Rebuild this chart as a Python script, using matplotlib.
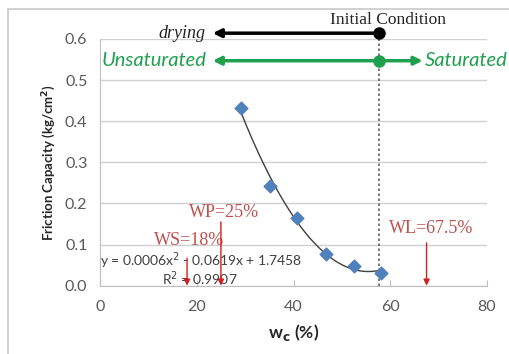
import numpy as np
import matplotlib

matplotlib.use("Agg")
import matplotlib.pyplot as plt
from matplotlib.patches import Rectangle

plt.rcParams["font.family"] = ["Lato", "DejaVu Sans"]

# ── data ──
wc = [29.2, 35.1, 40.8, 46.7, 52.5, 58.1]
friction = [0.431, 0.242, 0.165, 0.077, 0.048, 0.032]

initial_wc = 57.7
limit_names = ["WS=18%", "WP=25%", "WL=67.5%"]
limit_wc = [18, 25, 67.5]
limit_arrow_top = [0.067, 0.155, 0.104]
limit_text_pos = [(18.4, 0.109), (25.6, 0.177), (68.4, 0.140)]

x_ticks = [0, 20, 40, 60, 80]
y_ticks = [0.0, 0.1, 0.2, 0.3, 0.4, 0.5, 0.6]

GREEN = "#1FA04E"
RED = "#C0504D"
ARROW_RED = "#D21F1F"
BLUE = "#4F81BD"
GRID = "#D0D0D0"
TICK = "#595959"

fig = plt.figure(figsize=(5.1, 3.54), dpi=100)
ax = fig.add_axes([0.196, 0.193, 0.759, 0.697])

# outer chart border
fig.patches.append(Rectangle((8 / 510, -0.05), 1.1, 1 - 9 / 354 + 0.05,
                             transform=fig.transFigure, fill=False,
                             edgecolor="#C8C8C8", lw=1.2))

ax.set_xlim(0, 80)
ax.set_ylim(0, 0.6)
ax.set_xticks(x_ticks)
ax.set_yticks(y_ticks)
ax.set_yticklabels([f"{v:.1f}" for v in y_ticks])
ax.grid(axis="y", color=GRID, lw=1)
ax.set_axisbelow(True)
for s in ["top", "right"]:
    ax.spines[s].set_visible(False)
for s in ["left", "bottom"]:
    ax.spines[s].set_color("#BFBFBF")
ax.tick_params(axis="y", length=0, labelsize=11.5, labelcolor=TICK, pad=9)
ax.tick_params(axis="x", direction="in", length=4, color="#BFBFBF",
               labelsize=11.5, labelcolor=TICK, pad=10)

# trendline (2nd order polynomial fit of the points)
coef = np.polyfit(wc, friction, 2)
xs = np.linspace(min(wc), max(wc), 200)
ax.plot(xs, np.polyval(coef, xs), color="#404040", lw=1)
ax.scatter(wc, friction, marker="D", s=42, color=BLUE, zorder=4)

# initial condition dotted line
ax.plot([initial_wc, initial_wc], [0, 0.614], ls=(0, (1.5, 1.5)),
        color="#606060", lw=1.2, clip_on=False)

# drying arrow
ax.annotate("", xy=(23.3, 0.614), xytext=(initial_wc, 0.614),
            arrowprops=dict(arrowstyle="-|>", color="black", lw=2.5,
                            mutation_scale=12, shrinkA=0, shrinkB=0),
            annotation_clip=False)
ax.plot(initial_wc, 0.614, "o", color="black", ms=8, clip_on=False, zorder=5)
ax.text(21.7, 0.614, "drying", family="Liberation Serif", style="italic",
        fontsize=13, ha="right", va="center", color="#222222")
ax.text(59.5, 0.646, "Initial Condition", family="Liberation Serif",
        fontsize=12.5, ha="center", va="center", color="#222222")

# saturation arrow
ax.annotate("", xy=(23.3, 0.547), xytext=(66.7, 0.547),
            arrowprops=dict(arrowstyle="<|-|>", color=GREEN, lw=2.5,
                            mutation_scale=12, shrinkA=0, shrinkB=0),
            annotation_clip=False)
ax.plot(initial_wc, 0.547, "o", color=GREEN, ms=8, clip_on=False, zorder=5)
ax.text(22.1, 0.547, "Unsaturated", color=GREEN, style="italic",
        fontsize=14.5, ha="right", va="center")
ax.text(67.1, 0.547, "Saturated", color=GREEN, style="italic",
        fontsize=14.5, ha="left", va="center")

# equation
ax.text(20.9, 0.060, "y = 0.0006x$^2$ - 0.0619x + 1.7458", fontsize=10,
        ha="center", va="center", color="#404040")
ax.text(20.7, 0.016, "R$^2$ = 0.9907", fontsize=10, ha="center",
        va="center", color="#404040")

# consistency limits
for name, x, top, (tx, ty) in zip(limit_names, limit_wc, limit_arrow_top, limit_text_pos):
    ax.annotate("", xy=(x, 0), xytext=(x, top),
                arrowprops=dict(arrowstyle="-|>", color=ARROW_RED, lw=1,
                                mutation_scale=9, shrinkA=0, shrinkB=0))
    ax.text(tx, ty, name, family="Liberation Serif", fontsize=13,
            color=RED, ha="center", va="center")

ax.set_xlabel("w$_\\mathbf{c}$ (%)", fontsize=12.5, fontweight="bold",
              color="#262626", labelpad=6)
ax.set_ylabel("Friction Capacity (kg/cm$^\\mathbf{2}$)", fontsize=9.5,
              fontweight="bold", color="#262626", labelpad=5)

fig.savefig("out.png", dpi=100)
